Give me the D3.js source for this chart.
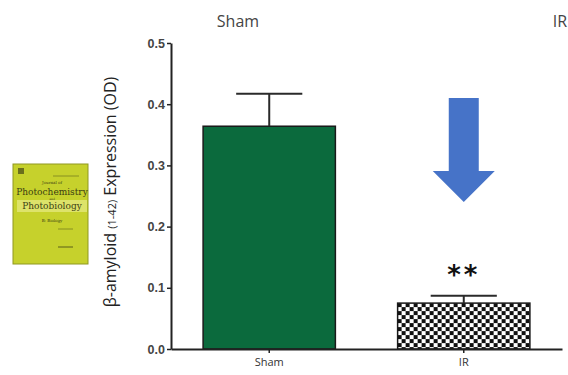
<!DOCTYPE html>
<html>
<head>
<meta charset="utf-8">
<script src="https://cdn.jsdelivr.net/npm/d3@7"></script>
<style>
  body { margin: 0; background: #fff; }
  svg { display: block; font-family: "Open Sans", "Liberation Sans", sans-serif; }
</style>
</head>
<body>
<div id="chart"></div>
<script>
// chart values
const groups = ["Sham", "IR"];
const means = [0.364, 0.075];
const errors = [0.053, 0.012];
const yTicks = [0.0, 0.1, 0.2, 0.3, 0.4, 0.5];
const headerLabels = ["Sham", "IR"];
const signif = ["", "**"];
const coverLines = ["Journal of", "Photochemistry", "and", "Photobiology", "B: Biology"];

const svgWidth = 568, svgHeight = 375;
const svg = d3.select('#chart').append('svg')
    .attr('width', svgWidth)
    .attr('height', svgHeight);

const x = d3.scaleBand()
    .domain(groups)
    .range([171, 562])
    .paddingInner(0.32)
    .paddingOuter(0.165);
const y = d3.scaleLinear()
    .domain([0, 0.5])
    .range([349, 43]);

// checker pattern for IR bar
const defs = svg.append('defs');
const pat = defs.append('pattern')
    .attr('id', 'checker')
    .attr('patternUnits', 'userSpaceOnUse')
    .attr('x', x('IR'))
    .attr('y', y(means[1]))
    .attr('width', 8)
    .attr('height', 8);
pat.append('rect').attr('width', 8).attr('height', 8).attr('fill', '#fff');
pat.append('rect').attr('x', 0).attr('y', 0).attr('width', 4).attr('height', 4).attr('fill', '#111');
pat.append('rect').attr('x', 4).attr('y', 4).attr('width', 4).attr('height', 4).attr('fill', '#111');

const fills = ['#0b6a3d', 'url(#checker)'];

// bars
svg.selectAll('rect.bar')
    .data(groups)
    .enter()
    .append('rect')
    .attr('class', 'bar')
    .attr('x', d => x(d))
    .attr('y', (d, i) => y(means[i]))
    .attr('width', x.bandwidth())
    .attr('height', (d, i) => y(0) - y(means[i]))
    .attr('fill', (d, i) => fills[i])
    .attr('stroke', '#1a1a1a')
    .attr('stroke-width', 1.5);

// error bars
const capW = x.bandwidth() / 2;
const err = svg.selectAll('g.err')
    .data(groups)
    .enter()
    .append('g')
    .attr('class', 'err')
    .attr('stroke', '#2a2a2a')
    .attr('stroke-width', 2);
err.append('line')
    .attr('x1', d => x(d) + x.bandwidth() / 2)
    .attr('x2', d => x(d) + x.bandwidth() / 2)
    .attr('y1', (d, i) => y(means[i]))
    .attr('y2', (d, i) => y(means[i] + errors[i]));
err.append('line')
    .attr('x1', d => x(d) + x.bandwidth() / 2 - capW / 2)
    .attr('x2', d => x(d) + x.bandwidth() / 2 + capW / 2)
    .attr('y1', (d, i) => y(means[i] + errors[i]))
    .attr('y2', (d, i) => y(means[i] + errors[i]));

// significance stars
svg.selectAll('text.sig')
    .data(groups)
    .enter()
    .append('text')
    .attr('class', 'sig')
    .attr('x', d => x(d) + x.bandwidth() / 2)
    .attr('y', (d, i) => y(means[i] + errors[i]) - 12)
    .attr('text-anchor', 'middle')
    .attr('font-size', 26)
    .attr('letter-spacing', 3)
    .attr('font-family', '"DejaVu Sans", sans-serif')
    .attr('font-weight', 'bold')
    .attr('fill', '#111')
    .text((d, i) => signif[i]);

// axes
const xAxis = d3.axisBottom(x).tickSize(4).tickSizeOuter(0);
const yAxis = d3.axisLeft(y).tickValues(yTicks).tickFormat(d3.format('.1f')).tickSize(4).tickSizeOuter(0);

const gX = svg.append('g')
    .attr('transform', 'translate(0,' + y(0) + ')')
    .call(xAxis);
gX.select('.domain').attr('stroke', '#222').attr('stroke-width', 2);
gX.selectAll('.tick line').attr('stroke', '#222').attr('stroke-width', 1.5);
gX.selectAll('.tick text')
    .attr('font-size', 11)
    .attr('font-family', '"Open Sans", sans-serif')
    .attr('fill', '#333')
    .attr('dy', '0.9em');

const gY = svg.append('g')
    .attr('transform', 'translate(171,0)')
    .call(yAxis);
gY.select('.domain').attr('stroke', '#222').attr('stroke-width', 2);
gY.selectAll('.tick line').attr('stroke', '#222').attr('stroke-width', 1.5);
gY.selectAll('.tick text')
    .attr('font-size', 12.5)
    .attr('font-weight', 'bold')
    .attr('fill', '#444')
    .attr('x', -6);

// y axis title
const yTitle = svg.append('text')
    .attr('transform', 'translate(116,192) rotate(-90)')
    .attr('text-anchor', 'middle')
    .attr('font-size', 16)
    .attr('fill', '#222');
yTitle.append('tspan').text('β-amyloid ');
yTitle.append('tspan').attr('font-size', 11).text('(1-42)');
yTitle.append('tspan').text(' Expression (OD)');

// header labels
const headerX = [238, 560];
svg.selectAll('text.head')
    .data(headerLabels)
    .enter()
    .append('text')
    .attr('class', 'head')
    .attr('x', (d, i) => headerX[i])
    .attr('y', 27)
    .attr('text-anchor', 'middle')
    .attr('font-size', 16)
    .attr('fill', '#444')
    .text(d => d);

// blue arrow
const arrowX = x('IR') + x.bandwidth() / 2;
const arrow = d3.path();
arrow.moveTo(arrowX - 15, 98);
arrow.lineTo(arrowX + 15, 98);
arrow.lineTo(arrowX + 15, 171);
arrow.lineTo(arrowX + 31, 171);
arrow.lineTo(arrowX, 202);
arrow.lineTo(arrowX - 31, 171);
arrow.lineTo(arrowX - 15, 171);
arrow.closePath();
svg.append('path')
    .attr('d', arrow.toString())
    .attr('fill', '#4673c8');

// journal cover thumbnail
const cover = svg.append('g').attr('transform', 'translate(13,164)');
cover.append('rect')
    .attr('width', 75)
    .attr('height', 100)
    .attr('fill', '#c6d12c')
    .attr('stroke', '#8f9820')
    .attr('stroke-width', 1);
cover.append('rect')
    .attr('x', 4).attr('y', 36).attr('width', 70).attr('height', 12)
    .attr('fill', '#dde36a');
cover.append('rect')
    .attr('x', 5).attr('y', 4).attr('width', 6).attr('height', 6)
    .attr('fill', '#6a6f1c');
const coverY = [20, 31, 36, 45, 58];
const coverSize = [4, 9, 3, 9, 4];
cover.selectAll('text')
    .data(coverLines)
    .enter()
    .append('text')
    .attr('x', 39)
    .attr('y', (d, i) => coverY[i])
    .attr('text-anchor', 'middle')
    .attr('font-family', '"DejaVu Serif", "Liberation Serif", serif')
    .attr('font-size', (d, i) => coverSize[i])
    .attr('fill', '#3b3d12')
    .text(d => d);
cover.append('line')
    .attr('x1', 40).attr('x2', 66).attr('y1', 12).attr('y2', 12)
    .attr('stroke', '#7a8020').attr('stroke-width', 0.8);
cover.append('line')
    .attr('x1', 45).attr('x2', 60).attr('y1', 65).attr('y2', 65)
    .attr('stroke', '#7a8020').attr('stroke-width', 0.8);
cover.append('line')
    .attr('x1', 45).attr('x2', 60).attr('y1', 83).attr('y2', 83)
    .attr('stroke', '#5a5e18').attr('stroke-width', 1);
</script>
</body>
</html>
